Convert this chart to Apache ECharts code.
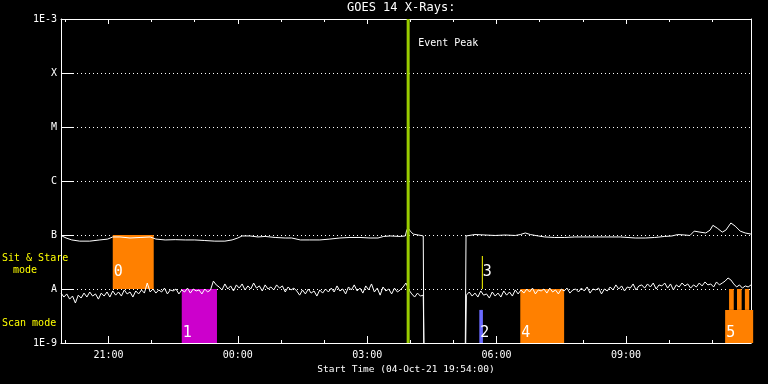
<!DOCTYPE html>
<html><head><meta charset="utf-8">
<script src="https://cdn.jsdelivr.net/npm/echarts@6/dist/echarts.min.js"></script>
<style>html,body{margin:0;padding:0;background:#000}#c{width:768px;height:384px}</style>
</head><body><div id="c"></div>
<script>
// ---- text ----
const chartTitle = 'GOES 14 X-Rays:';
const xAxisName = 'Start Time (04-Oct-21 19:54:00)';
const eventLabel = 'Event Peak';

// ---- axes (x in minutes since 00:00 04-Oct-21) ----
const xMin = 1194, xMax = 2154;
const xMajorTicks = [1260, 1440, 1620, 1800, 1980];
const xTickLabels = ['21:00', '00:00', '03:00', '06:00', '09:00'];
const xMinorTicks = [1200,1260,1320,1380,1440,1500,1560,1620,1680,1740,1800,1860,1920,1980,2040,2100];
const yMin = 1e-9, yMax = 1e-3;
const yTickLabels = ['1E-9', 'A', 'B', 'C', 'M', 'X', '1E-3'];

// ---- long channel (1-8 A), flux in units of 1e-9 W/m^2 ----
const longTimes = [1194,1201,1209,1220,1234,1248,1259,1266,1276,1290,1304,1318,1326,1339,1353,1367,1380,1394,1408,1422,1432,1440,1446,1457,1468,1478,1492,1506,1515,1527,1540,1554,1568,1582,1596,1610,1624,1635,1643,1652,1666,1673,1675,1677,1680,1684,1691,1695,1698,1700,1755,1757.5,1760,1770,1784,1798,1812,1826,1833,1840,1847,1858,1867,1881,1895,1909,1930,1951,1972,1993,2007,2020,2034,2044,2052,2062,2069,2075,2083,2091,2097,2101,2107,2114,2119,2126,2132,2139,2146,2154];
const longFlux = [98,88,81,77,77,81,84,92,92,88,90,92,84,81,82,81,81,79,77,77,81,88,96,96,92,94,90,88,88,81,81,81,84,88,90,90,88,88,94,96,94,96,123,134,118,104,100,98,96,0.001,0.001,96,102,102,100,98,100,98,102,109,102,96,92,90,90,92,92,92,92,88,88,90,94,96,102,100,98,118,113,109,123,151,134,113,123,167,146,118,109,104];

// ---- short channel (0.5-4 A), 4-minute samples from 19:54, units of 1e-9 W/m^2 ----
const shortStart = 1194, shortStep = 4;
const shortFlux = [
8.4,7.1,8.1,6.5,7.4,5.5,7.7,6.8,8.4,7.1,8.8,7.4,8.1,6.5,8.4,7.4,8.8,7.1,
9.2,7.7,8.8,7.4,9.6,8.1,8.8,7.1,9.2,8.1,9.6,8.4,12.9,8.8,
10.0,8.4,9.6,8.8,10.4,8.1,9.6,9.2,10.0,8.1,9.6,8.8,10.4,8.4,10.0,9.2,9.6,8.1,10.0,8.8,9.6,
14.0,11.9,
10.9,9.6,12.4,10.0,11.4,9.2,11.9,10.4,12.4,9.6,11.4,10.0,12.9,10.4,11.4,9.2,11.9,10.0,10.9,9.6,11.9,10.4,11.4,8.8,10.9,9.6,10.4,
9.2,7.7,9.6,8.1,10.0,8.4,9.2,7.4,9.6,8.4,10.0,8.8,
10.4,8.8,11.4,9.2,10.0,8.1,10.9,9.6,11.9,9.2,10.4,8.4,11.4,9.6,12.4,8.8,10.4,7.7,10.9,9.2,10.0,8.1,10.4,8.8,9.6,
10.9,12.9,9.6,
8.1,7.1,8.4,7.4,7.7,
0.001,0.001,0.001,0.001,0.001,0.001,0.001,0.001,0.001,0.001,0.001,0.001,0.001,0.001,
7.7,8.8,7.4,8.4,7.1,9.2,7.7,8.1,6.8,8.8,7.4,8.4,7.1,9.2,7.7,8.8,7.4,9.6,8.1,
9.6,8.4,10.0,8.8,10.4,8.1,9.6,9.2,10.0,8.4,10.4,8.8,9.6,8.1,10.0,9.2,10.4,8.4,9.6,
10.0,8.8,10.4,9.2,10.9,8.4,10.0,9.6,10.4,8.1,10.0,9.2,
10.9,9.6,11.9,10.0,11.4,9.2,10.9,10.4,12.4,9.6,11.4,
11.9,10.4,12.4,10.9,12.9,10.0,11.9,11.4,12.9,10.4,12.4,9.6,11.9,10.9,12.9,11.4,12.4,10.4,11.9,10.9,
12.9,11.4,13.5,11.9,12.4,10.9,13.5,11.9,12.9,14.0,16.0,14.7,12.4,
10.9,11.9,10.4,11.4,10.9,11.9
];

// ---- observation mode blocks ----
const boxStart = [1266, 1362, 1776, 1779.5, 1833, 2118, 2123.5, 2134.5, 2145.5];
const boxEnd   = [1323, 1411, 1781, 1780.9, 1894, 2157, 2130, 2141, 2151.5];
const boxLow   = [1e-8, 1e-9, 1e-9, 1e-8, 1e-9, 1e-9, 4.1e-9, 4.1e-9, 4.1e-9];
const boxHigh  = [1e-7, 1e-8, 4.1e-9, 4.1e-8, 1e-8, 4.1e-9, 1e-8, 1e-8, 1e-8];
const boxLabel = ['0', '1', '2', '3', '4', '5', '', '', ''];

// ---- event ----
const eventTimes = [1677];

// ---- styles ----
const boxColors = ['#ff8000', '#cc00cc', '#6a6aff', '#ffff00', '#ff8000', '#ff8000', '#ff8000', '#ff8000', '#ff8000'];
const FONT = "'DejaVu Sans Mono', monospace";
const WHITE = '#ffffff';

const longData = longTimes.map((t, i) => [t, longFlux[i] * 1e-9]);
const shortData = shortFlux.map((v, i) => [shortStart + i * shortStep, v * 1e-9]);
const boxData = boxStart.map((s, i) => [s, boxEnd[i], boxLow[i], boxHigh[i]]);

const chart = echarts.init(document.getElementById('c'), null, { renderer: 'canvas' });

function xAxisBase(extra) {
  return Object.assign({
    type: 'value', min: xMin, max: xMax, gridIndex: 0,
    axisLine: { show: false, onZero: false },
    splitLine: { show: false },
    axisLabel: { show: false },
    axisTick: { show: false }
  }, extra);
}

chart.setOption({
  backgroundColor: '#000000',
  animation: false,
  title: {
    text: chartTitle, left: 347, top: 2, padding: 0,
    textStyle: { color: WHITE, fontSize: 12, fontWeight: 'normal', fontFamily: FONT }
  },
  grid: { left: 61, right: 17, top: 19, bottom: 41, containLabel: false, outerBoundsMode: 'none' },
  xAxis: [
    xAxisBase({
      position: 'bottom',
      axisLine: { show: true, onZero: false, lineStyle: { color: WHITE, width: 1 } },
      axisTick: { show: true, inside: true, length: 7, customValues: xMajorTicks, lineStyle: { color: WHITE } },
      axisLabel: {
        show: true, customValues: xMajorTicks, margin: 7, color: WHITE, fontSize: 10, fontFamily: FONT,
        formatter: v => xTickLabels[xMajorTicks.indexOf(v)]
      },
      name: xAxisName, nameLocation: 'middle', nameGap: 19,
      nameTextStyle: { color: WHITE, fontSize: 9.5, fontFamily: FONT }
    }),
    xAxisBase({
      position: 'bottom',
      axisTick: { show: true, inside: true, length: 3, customValues: xMinorTicks, lineStyle: { color: WHITE } }
    }),
    xAxisBase({
      position: 'top',
      axisLine: { show: true, onZero: false, lineStyle: { color: WHITE, width: 1 } },
      axisTick: { show: true, inside: true, length: 5, customValues: xMajorTicks, lineStyle: { color: WHITE } }
    }),
    xAxisBase({
      position: 'top',
      axisTick: { show: true, inside: true, length: 3, customValues: xMinorTicks, lineStyle: { color: WHITE } }
    })
  ],
  yAxis: [
    {
      type: 'log', logBase: 10, min: yMin, max: yMax, splitNumber: 6, position: 'left',
      axisLine: { show: true, onZero: false, lineStyle: { color: WHITE, width: 1 } },
      axisTick: { show: true, inside: true, length: 13, lineStyle: { color: WHITE } },
      minorTick: { show: false },
      axisLabel: {
        color: WHITE, fontSize: 10, fontFamily: FONT, margin: 4,
        formatter: v => yTickLabels[Math.round(Math.log10(v)) + 9] || ''
      },
      splitLine: { show: true, lineStyle: { color: WHITE, width: 1, type: [1, 3] } }
    },
    {
      type: 'log', logBase: 10, min: yMin, max: yMax, position: 'right',
      axisLine: { show: true, onZero: false, lineStyle: { color: WHITE, width: 1 } },
      axisTick: { show: false }, axisLabel: { show: false }, splitLine: { show: false }
    }
  ],
  graphic: [
    { type: 'text', left: 2, top: 253, style: { text: 'Sit & Stare', fill: '#ffff00', font: '10px ' + FONT } },
    { type: 'text', left: 13, top: 265, style: { text: 'mode', fill: '#ffff00', font: '10px ' + FONT } },
    { type: 'text', left: 2, top: 318, style: { text: 'Scan mode', fill: '#ffff00', font: '10px ' + FONT } }
  ],
  series: [
    {
      type: 'custom', name: 'modes', xAxisIndex: 0, yAxisIndex: 0, z: 1, clip: false,
      data: boxData,
      encode: { x: [0, 1], y: [2, 3] },
      renderItem: function (params, api) {
        const i = params.dataIndex;
        const p0 = api.coord([api.value(0), api.value(3)]);
        const p1 = api.coord([api.value(1), api.value(2)]);
        const children = [{
          type: 'rect',
          shape: { x: p0[0], y: p0[1], width: p1[0] - p0[0], height: p1[1] - p0[1] },
          style: { fill: boxColors[i] }
        }];
        if (boxLabel[i]) {
          const off = api.value(2) >= 1e-8 ? 17 : 10;
          children.push({
            type: 'text',
            style: { text: boxLabel[i], x: p0[0] + 1, y: p1[1] - off, fill: WHITE, font: '15px ' + FONT, align: 'left', verticalAlign: 'middle' }
          });
        }
        return { type: 'group', children: children };
      }
    },
    {
      type: 'line', name: 'long', xAxisIndex: 0, yAxisIndex: 0, z: 2,
      data: longData, showSymbol: false, symbol: 'none',
      lineStyle: { color: WHITE, width: 1 }
    },
    {
      type: 'line', name: 'short', xAxisIndex: 0, yAxisIndex: 0, z: 2,
      data: shortData, showSymbol: false, symbol: 'none',
      lineStyle: { color: WHITE, width: 1 }
    },
    {
      type: 'custom', name: 'event', xAxisIndex: 0, yAxisIndex: 0, z: 3, clip: false,
      data: eventTimes.map(t => [t, yMax]),
      encode: { x: 0, y: 1 },
      renderItem: function (params, api) {
        const top = api.coord([api.value(0), yMax]);
        const bot = api.coord([api.value(0), yMin]);
        return {
          type: 'group', children: [
            { type: 'line', shape: { x1: top[0], y1: top[1], x2: bot[0], y2: bot[1] }, style: { stroke: '#99cc00', lineWidth: 3 } },
            { type: 'text', style: { text: eventLabel, x: top[0] + 10, y: top[1] + 24, fill: WHITE, font: '10px ' + FONT, align: 'left', verticalAlign: 'middle' } }
          ]
        };
      }
    }
  ]
});
</script>
</body></html>
